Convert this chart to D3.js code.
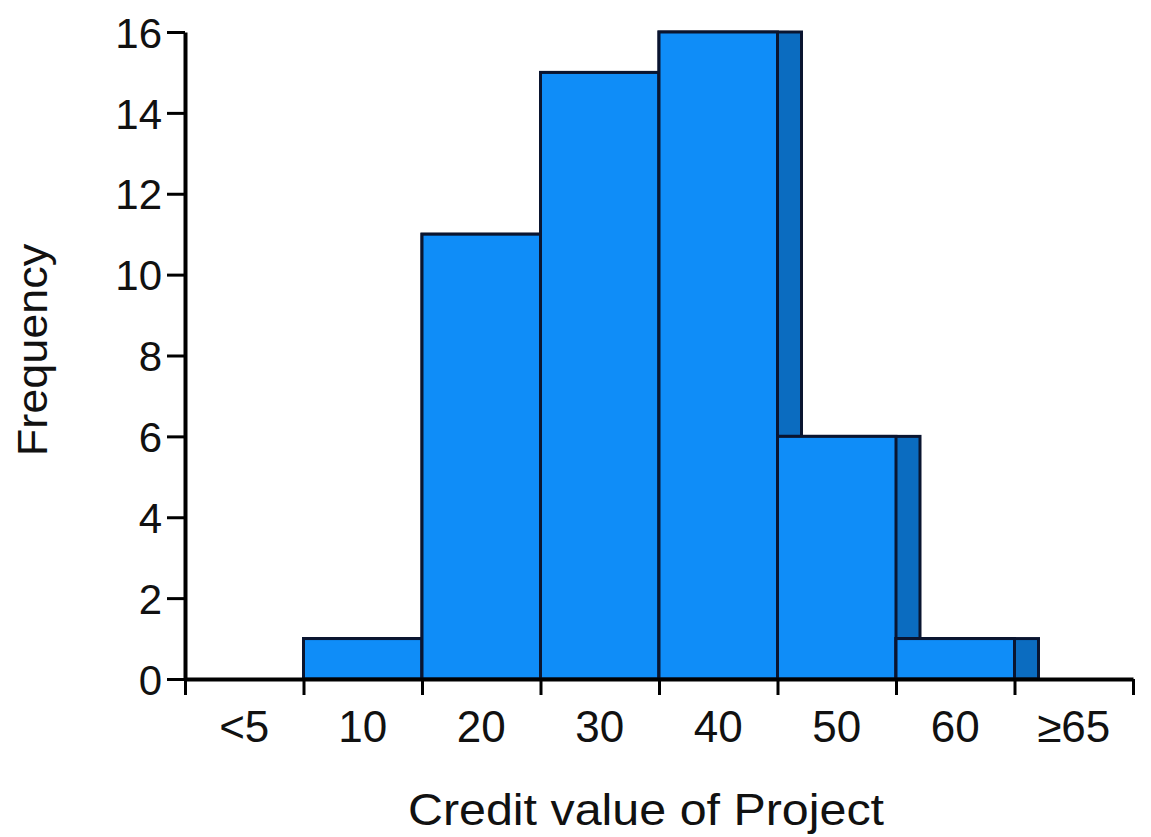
<!DOCTYPE html>
<html><head><meta charset="utf-8">
<script src="https://cdn.jsdelivr.net/npm/d3@7"></script>
<style>body{margin:0;background:#fff}svg{display:block}text{font-family:"Liberation Sans",Arial,sans-serif;fill:#111}</style>
</head><body><svg id="c" width="1151" height="837"></svg>
<script>
const categories = ["<5","10","20","30","40","50","60","≥65"];
const frequency = [0,1,11,15,16,6,1,0];
const yTicks = [0,2,4,6,8,10,12,14,16];

const svg = d3.select("#c");
const x = d3.scaleLinear().domain([0, categories.length]).range([185, 1133]);
const y = d3.scaleLinear().domain([0, 16]).range([679, 32]);
const shadow = 24;
const fillMain = "#0f8df8", fillShadow = "#0b6cc0", edge = "#0a1530";

const g = svg.append("g");
frequency.forEach((v, i) => {
  if (v <= 0) return;
  const x0 = x(i), x1 = x(i + 1);
  g.append("rect").attr("x", x0).attr("y", y(v)).attr("width", x1 - x0 + shadow).attr("height", y(0) - y(v))
    .attr("fill", fillShadow).attr("stroke", edge).attr("stroke-width", 3);
  g.append("rect").attr("x", x0).attr("y", y(v)).attr("width", x1 - x0).attr("height", y(0) - y(v))
    .attr("fill", fillMain).attr("stroke", edge).attr("stroke-width", 3);
});

// y axis
const ya = svg.append("g").attr("transform", "translate(185,0)")
  .call(d3.axisLeft(y).tickValues(yTicks).tickSize(18).tickPadding(5).tickSizeOuter(0));
ya.select(".domain").attr("stroke", "#000").attr("stroke-width", 4);
ya.selectAll(".tick line").attr("stroke", "#000").attr("stroke-width", 3);
ya.selectAll(".tick text").attr("font-size", 42).attr("fill", "#111").attr("dy", "0.36em")
  .style("font-family", "'Liberation Sans', Arial, sans-serif");

// x axis
const xa = svg.append("g").attr("transform", "translate(0,679)")
  .call(d3.axisBottom(x).tickValues(d3.range(0, categories.length + 1)).tickSize(16).tickFormat("").tickSizeOuter(0));
xa.select(".domain").attr("stroke", "#000").attr("stroke-width", 4);
xa.selectAll(".tick line").attr("stroke", "#000").attr("stroke-width", 3);

svg.append("g").selectAll("text").data(categories).join("text")
  .attr("x", (d, i) => x(i + 0.5)).attr("y", 742).attr("text-anchor", "middle")
  .attr("font-size", 44).text(d => d);

svg.append("text").attr("transform", "translate(646,825) scale(1.1,1)").attr("text-anchor", "middle")
  .attr("font-size", 44).text("Credit value of Project");
svg.append("text").attr("transform", "translate(47,350) rotate(-90) scale(1.07,1)").attr("text-anchor", "middle")
  .attr("font-size", 42).text("Frequency");
</script></body></html>
